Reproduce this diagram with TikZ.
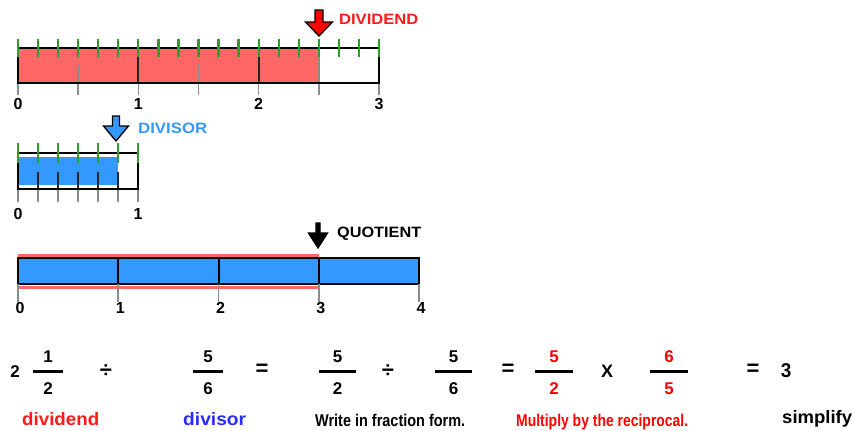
\documentclass[tikz,border=0pt]{standalone}
\usepackage{fontspec}
\setmainfont{Liberation Sans}
\usepackage{graphicx}
\definecolor{barred}{HTML}{FF6666}
\definecolor{barblue}{HTML}{3399FF}
\definecolor{tickgreen}{HTML}{2E9E2E}
\definecolor{txtred}{HTML}{FF1A1A}
\definecolor{txtblue}{HTML}{2B2BFF}
\definecolor{lblblue}{HTML}{3399FF}
\newcommand{\fitw}[2]{\resizebox{#1}{\height}{#2}}
\begin{document}
\begin{tikzpicture}[x=1pt,y=-1pt,
  num/.style={font=\fontsize{17}{17}\selectfont\bfseries, inner sep=0pt},
  axnum/.style={font=\fontsize{16}{16}\selectfont\bfseries, inner sep=0pt},
  captext/.style={font=\fontsize{15}{15}\selectfont\bfseries, inner sep=0pt, anchor=west},
  op/.style={font=\fontsize{22}{22}\selectfont\bfseries, inner sep=0pt},
  lbl/.style={font=\fontsize{18}{18}\selectfont\bfseries, inner sep=0pt, anchor=base west},
  gtick/.style={tickgreen, line width=2.3pt},
  graytick/.style={black!45, line width=1.6pt},
  darkline/.style={black!85, line width=1.8pt},
  outline/.style={black, line width=2pt},
  fbar/.style={black, line width=3pt},
  arrowshape/.style={draw=black, line width=1.3pt, line join=miter}
]
\useasboundingbox (0,0) rectangle (855,431);

% ---------- dividend bar ----------
\fill[barred] (18,48) rectangle (319,83);
\foreach \k in {0.5,1.5} \draw[graytick] (18+\k*120.33,65) -- (18+\k*120.33,95);
\draw[graytick] (318.8,57) -- (318.8,95);
\foreach \k in {0,1,2,3} \draw[graytick] (18+\k*120.33,83) -- ++(0,12);
\foreach \k in {1,2} \draw[darkline] (18+\k*120.33,57) -- (18+\k*120.33,83);
\draw[outline] (18,48) rectangle (379,83);
\foreach \k in {0,...,18} \draw[gtick] (18+\k*20.055,39) -- ++(0,18);
\foreach \k in {0,...,3} \node[axnum] (a\k) at (18+\k*120.33,104) {\k};
\draw[arrowshape, fill=red] (315,10) -- (315,22) -- (305.5,22) -- (319,36) -- (332.5,22) -- (323,22) -- (323,10) -- cycle;
\node[captext, text=txtred] (dvd) at (339,19) {\fitw{79pt}{DIVIDEND}};

% ---------- divisor bar ----------
\fill[barblue] (18,157) rectangle (118,185);
\foreach \k in {1,...,5} \draw[darkline] (18+\k*20,172) -- ++(0,17);
\foreach \k in {0,...,6} \draw[graytick] (18+\k*20,189) -- ++(0,13);
\draw[outline] (18,153) rectangle (138,189);
\foreach \k in {0,...,6} \draw[gtick] (18+\k*20,143) -- ++(0,20);
\node[axnum] (b0) at (18,214) {0};
\node[axnum] (b1) at (138,214) {1};
\draw[arrowshape, fill=barblue] (112.5,116) -- (112.5,126) -- (103.5,126) -- (116,141) -- (128.5,126) -- (119.5,126) -- (119.5,116) -- cycle;
\node[captext, text=lblblue] (dvs) at (138,128) {\fitw{69pt}{DIVISOR}};

% ---------- quotient bar ----------
\draw[red!80, line width=3pt, opacity=0.75] (18,255) -- (319,255);
\draw[red!80, line width=3pt, opacity=0.75] (18,287) -- (319,287);
\draw[outline, fill=barblue] (18,258) rectangle (419,284);
\foreach \k in {1,2,3} \draw[outline] (18+\k*100.25,258) -- ++(0,26);
\foreach \k in {0,...,4} \draw[graytick] (18+\k*100.25,284) -- ++(0,18);
\foreach \k in {0,...,4} \node[axnum] (c\k) at (18+\k*100.25+2,308) {\k};
\draw[arrowshape, fill=black] (316,223) -- (316,233) -- (308.5,233) -- (318,248) -- (327.5,233) -- (320,233) -- (320,223) -- cycle;
\node[captext] (quo) at (337,234) {\fitw{84pt}{QUOTIENT}};

% ---------- equation ----------
\node[num] (w) at (15,372) {2};
\draw[fbar] (33,371) -- (63,371);
\node[num] (n1) at (48,357) {1};
\node[num] (d1) at (48,389) {2};
\node[op] (div1) at (106,371) {÷};

\draw[fbar] (193,371) -- (223,371);
\node[num] (n2) at (208,357) {5};
\node[num] (d2) at (208,389) {6};
\node[op] (eq1) at (262,370) {=};

\draw[fbar] (319,371) -- (356,371);
\node[num] (n3) at (337.5,357) {5};
\node[num] (d3) at (337.5,389) {2};
\node[op] (div2) at (388,371) {÷};

\draw[fbar] (435,371) -- (472,371);
\node[num] (n4) at (453.5,357) {5};
\node[num] (d4) at (453.5,389) {6};
\node[op] (eq2) at (508,370) {=};

\draw[fbar] (535,371) -- (573,371);
\node[num, text=red] (n5) at (554,357) {5};
\node[num, text=red] (d5) at (554,389) {2};
\node[op, font=\fontsize{18}{18}\selectfont\bfseries] (times) at (607,371) {X};

\draw[fbar] (650,371) -- (688,371);
\node[num, text=red] (n6) at (669,357) {6};
\node[num, text=red] (d6) at (669,389) {5};
\node[op] (eq3) at (753,370) {=};
\node[num, font=\fontsize{20}{20}\selectfont\bfseries] (res) at (786,371) {\fitw{10.5pt}{3}};

% ---------- captions ----------
\node[lbl, text=txtred] (l1) at (22,425) {\fitw{77pt}{dividend}};
\node[lbl, text=txtblue] (l2) at (183,425) {\fitw{63pt}{divisor}};
\node[lbl, font=\fontsize{17}{17}\selectfont\bfseries] (l3) at (315,426) {\fitw{150pt}{Write in fraction form.}};
\node[lbl, font=\fontsize{17}{17}\selectfont\bfseries, text=red] (l4) at (516,426) {\fitw{172pt}{Multiply by the reciprocal.}};
\node[lbl] (l5) at (782,423) {\fitw{70pt}{simplify}};
\end{tikzpicture}
\end{document}
